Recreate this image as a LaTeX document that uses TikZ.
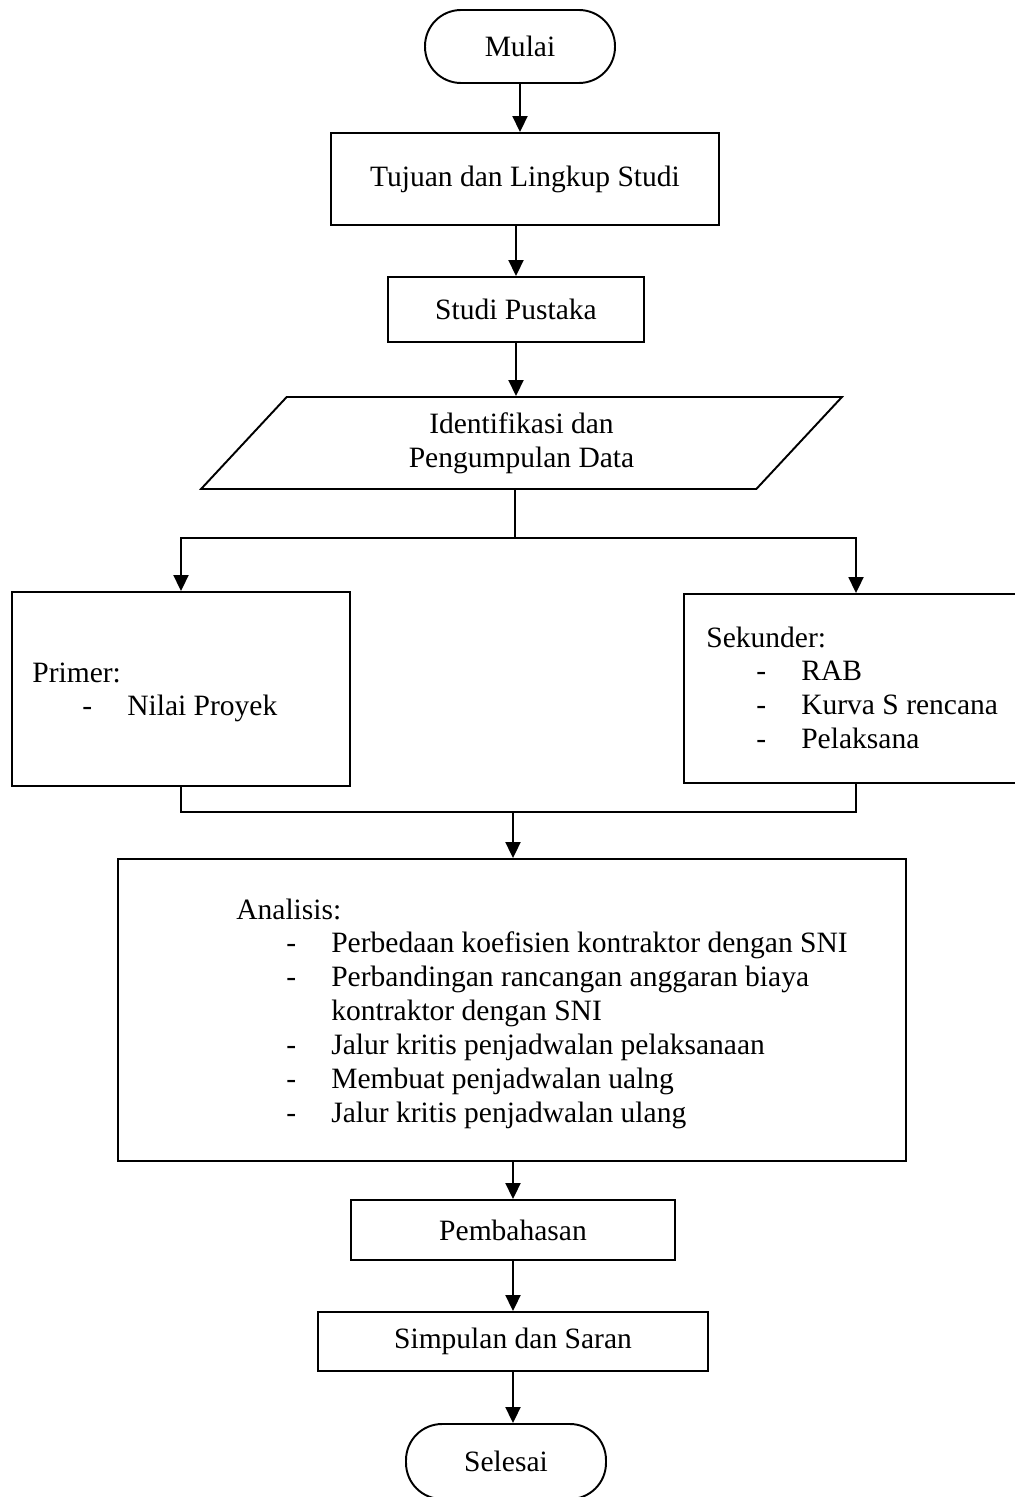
\documentclass[tikz,border=0pt]{standalone}
\usepackage{fontspec}
\setmainfont{Liberation Serif}
\usepackage{tikz}
\usetikzlibrary{shapes.geometric}
\usetikzlibrary{arrows.meta}
\newcommand{\butir}[1]{\hspace*{1.0cm}\makebox[0.9cm][l]{-}#1}

\begin{document}
\begin{tikzpicture}[x=0.02cm,y=-0.02cm,>={Triangle[width=0.3cm,length=0.32cm]},
  font=\fontsize{16.8}{19.3}\selectfont,
  kotak/.style={draw, line width=1.1pt, inner sep=0pt},
  ujung/.style={kotak, rounded corners=0.72cm},
  teks/.style={inner sep=0pt, anchor=base west},
  panah/.style={->, line width=1.1pt},
  garis/.style={line width=0.7pt}]
\useasboundingbox (0,0) rectangle (1014,1497);
\node[ujung, minimum width=3.8cm, minimum height=1.46cm] (mulai) at (520,46.5) {Mulai};
\node[kotak, minimum width=7.76cm, minimum height=1.84cm] (tujuan) at (525,179) {Tujuan dan Lingkup Studi};
\node[kotak, minimum width=5.12cm, minimum height=1.3cm] (pustaka) at (516,309.5) {Studi Pustaka};
\node[kotak, trapezium, trapezium left angle=35.5, trapezium right angle=144.5,
  trapezium stretches body, minimum width=12.82cm, minimum height=1.84cm, align=center]
  (data) at (521.5,443) {Identifikasi dan\\Pengumpulan Data};
\node[kotak, minimum width=6.76cm, minimum height=3.88cm] (primer) at (181,689) {};
\node[kotak, minimum width=6.88cm, minimum height=3.78cm] (sekunder) at (856,688.5) {};
\node[kotak, minimum width=15.76cm, minimum height=6.04cm] (analisis) at (512,1010) {};
\node[kotak, minimum width=6.48cm, minimum height=1.2cm] (bahas) at (513,1230) {Pembahasan};
\node[kotak, minimum width=7.8cm, minimum height=1.18cm] (simpulan) at (513,1341.5) {Simpulan dan Saran};
\node[ujung, minimum width=4.0cm, minimum height=1.5cm] (selesai) at (506,1461.5) {Selesai};

\node[teks] (tprimer) at (32,682) {\begin{tabular}[t]{@{}l@{}}Primer:\\
  \butir{Nilai Proyek}\end{tabular}};
\node[teks] (tsekunder) at (706,647) {\begin{tabular}[t]{@{}l@{}}Sekunder:\\
  \butir{RAB}\\
  \butir{Kurva S rencana}\\
  \butir{Pelaksana}\end{tabular}};
\node[teks] (tanalisis) at (236,919) {\begin{tabular}[t]{@{}l@{}}Analisis:\\
  \butir{Perbedaan koefisien kontraktor dengan SNI}\\
  \butir{Perbandingan rancangan anggaran biaya}\\
  \hspace*{1.9cm}kontraktor dengan SNI\\
  \butir{Jalur kritis penjadwalan pelaksanaan}\\
  \butir{Membuat penjadwalan ualng}\\
  \butir{Jalur kritis penjadwalan ulang}\end{tabular}};

\coordinate (cabang) at (515,538);
\coordinate (gabung) at (513,812);

\draw[panah] (mulai.south) -- (mulai.south |- tujuan.north);
\draw[panah] (pustaka.north |- tujuan.south) -- (pustaka.north);
\draw[panah] (pustaka.south) -- (pustaka.south |- data.north);
\draw[garis] (data.south -| cabang) -- (cabang);
\draw[panah] (cabang) -| (primer.north);
\draw[panah] (cabang) -| (sekunder.north);
\draw[garis] (primer.south) |- (gabung);
\draw[garis] (sekunder.south) |- (gabung);
\draw[panah] (gabung) -- (gabung |- analisis.north);
\draw[panah] (analisis.south -| bahas) -- (bahas.north);
\draw[panah] (bahas.south) -- (simpulan.north);
\draw[panah] (simpulan.south) -- (simpulan.south |- selesai.north);
\end{tikzpicture}
\end{document}
